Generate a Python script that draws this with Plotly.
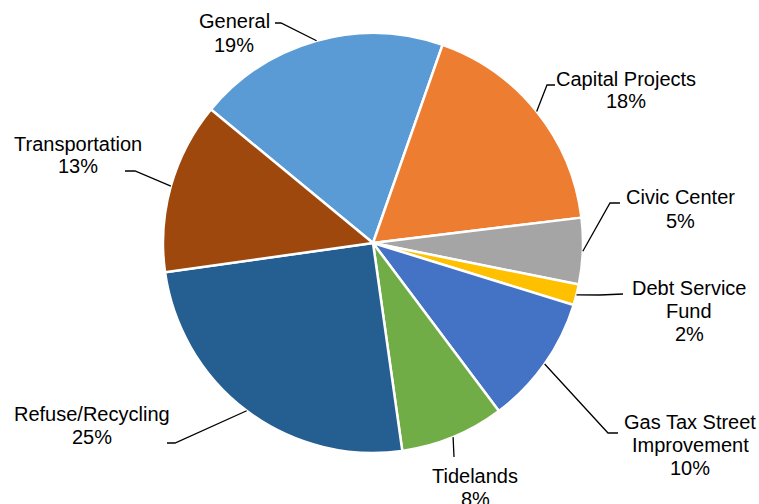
import math
import plotly.graph_objects as go

# ---- data ----
labels = ["General", "Capital Projects", "Civic Center", "Debt Service Fund",
          "Gas Tax Street Improvement", "Tidelands", "Refuse/Recycling", "Transportation"]
display_labels = ["General", "Capital Projects", "Civic Center", "Debt Service<br>Fund",
                  "Gas Tax Street<br>Improvement", "Tidelands", "Refuse/Recycling", "Transportation"]
values = [19.4, 17.7, 5.1, 1.6, 10.0, 8.0, 25.0, 13.2]
colors = ["#5B9BD5", "#ED7D31", "#A5A5A5", "#FFC000",
          "#4472C4", "#70AD47", "#255E91", "#9E480E"]

# ---- layout constants (pixels) ----
W, H = 759, 504
CX, CY, R = 373, 243, 210
START_ANGLE = 309.5  # degrees clockwise from 12 o'clock
LINE_GAP = 23

# label block centers and leader-line knee / end points (pixels)
label_pos = [(234, 33), (626, 90), (680, 209), (689, 311),
             (690, 445), (475, 487), (92, 425), (78, 155)]
leader_knee = [(281, 23), (547, 85), (610, 203), (600, 295),
               (608, 433), (454, 457), (175, 443), (135, 171)]
leader_end = [(275, 23), (555, 85), (620, 203), (623, 294),
              (618, 433), (454, 457), (167, 443), (125, 171)]


def px(x):
    return x / W


def py(y):
    return 1 - y / H


fig = go.Figure(go.Pie(
    labels=labels,
    values=values,
    sort=False,
    direction="clockwise",
    rotation=START_ANGLE,
    marker=dict(colors=colors, line=dict(color="white", width=2.5)),
    textinfo="none",
    hoverinfo="label+percent",
    showlegend=False,
    domain=dict(x=[px(CX - R), px(CX + R)], y=[py(CY + R), py(CY - R)]),
))

total = sum(values)
shapes = []
annotations = []
cum = 0.0
for i, v in enumerate(values):
    mid = START_ANGLE + 360.0 * (cum + v / 2) / total
    cum += v
    a = math.radians(mid)
    ex = CX + R * math.sin(a)
    ey = CY - R * math.cos(a)
    kx, ky = leader_knee[i]
    lx, ly = leader_end[i]
    path = f"M {px(ex)} {py(ey)} L {px(kx)} {py(ky)} L {px(lx)} {py(ly)}"
    shapes.append(dict(type="path", xref="paper", yref="paper", path=path,
                       line=dict(color="#000000", width=1.3)))
    pct = round(100 * v / total)
    lines = display_labels[i].split("<br>") + [f"{pct}%"]
    tx, ty = label_pos[i]
    n = len(lines)
    for j, t in enumerate(lines):
        yy = ty + (j - (n - 1) / 2) * LINE_GAP
        annotations.append(dict(
            x=px(tx), y=py(yy), xref="paper", yref="paper",
            text=t, showarrow=False, xanchor="center", yanchor="middle", align="center",
            font=dict(family="Liberation Sans, Arial, sans-serif", size=20, color="#000000"),
        ))

fig.update_layout(
    width=W, height=H, autosize=False,
    margin=dict(l=0, r=0, t=0, b=0),
    paper_bgcolor="white", plot_bgcolor="white",
    shapes=shapes, annotations=annotations,
)

fig.write_html("out.html")
